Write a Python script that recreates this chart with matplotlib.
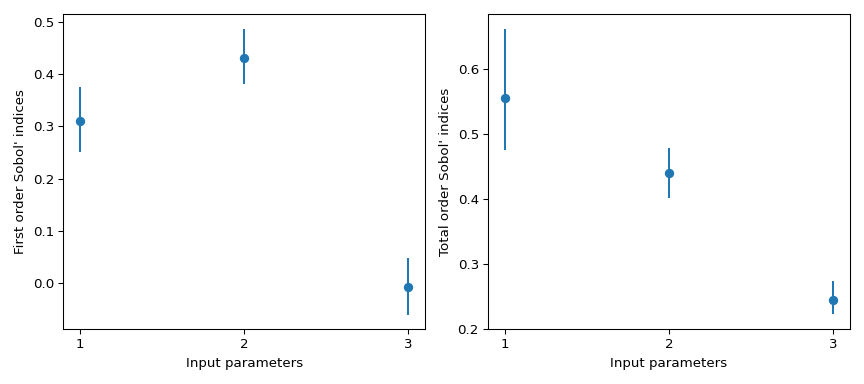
import numpy as np
import matplotlib
matplotlib.use("Agg")
from matplotlib import pyplot as plt

params = [1, 2, 3]

# first order indices and their confidence bounds
s1 = [0.310, 0.4305, -0.0077]
s1_low = [0.251, 0.380, -0.060]
s1_high = [0.3755, 0.4865, 0.0484]

# total order indices and their confidence bounds
st = [0.5554, 0.440, 0.2446]
st_low = [0.4748, 0.402, 0.2225]
st_high = [0.662, 0.479, 0.2743]

fig, ax = plt.subplots(1, 2, figsize=(9, 4), dpi=96)

# first order
err1 = [np.subtract(s1, s1_low), np.subtract(s1_high, s1)]
ax[0].errorbar(params, s1, yerr=err1, fmt='o')
ax[0].set_xticks(params)
ax[0].set_xlabel("Input parameters")
ax[0].set_ylabel("First order Sobol' indices")

# total order
err2 = [np.subtract(st, st_low), np.subtract(st_high, st)]
ax[1].errorbar(params, st, yerr=err2, fmt='o')
ax[1].set_xticks(params)
ax[1].set_ylim(bottom=0.2)
ax[1].set_xlabel("Input parameters")
ax[1].set_ylabel("Total order Sobol' indices")

plt.tight_layout()
plt.savefig("out.png", dpi=96)
